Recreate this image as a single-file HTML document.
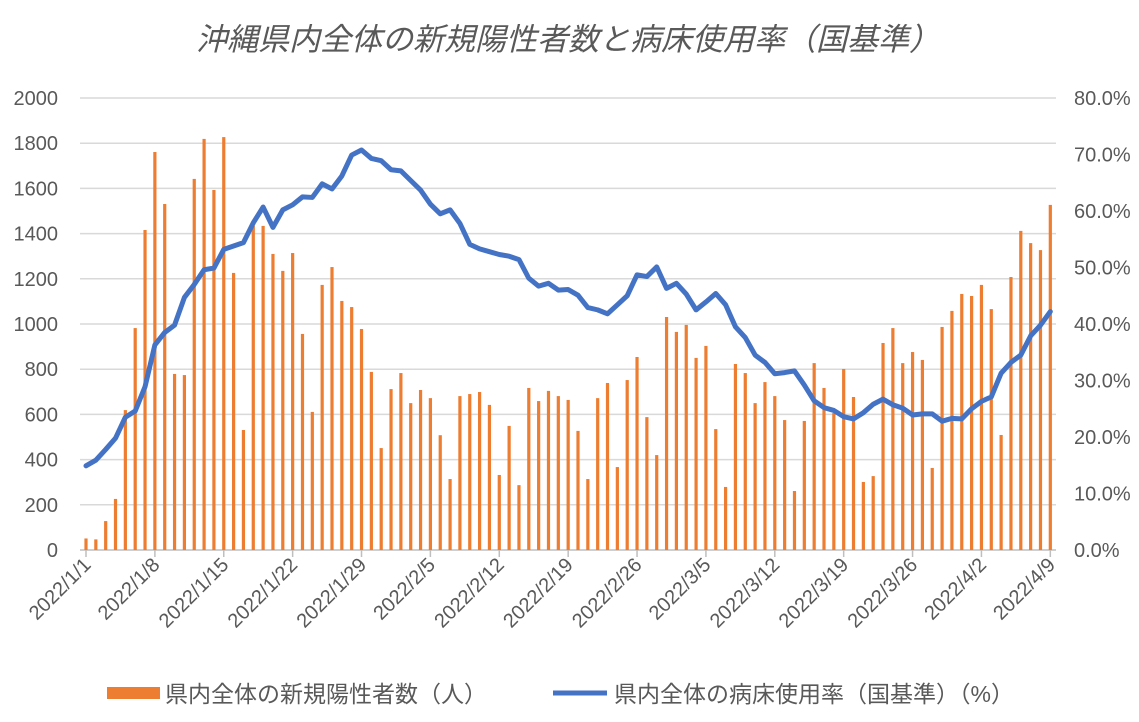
<!DOCTYPE html>
<html><head><meta charset="utf-8"><style>
body{margin:0;background:#fff;}
svg text{font-family:"Liberation Sans","Noto Sans CJK JP",sans-serif;fill:#595959;}
</style></head><body>
<svg id="s" width="1139" height="717" xmlns="http://www.w3.org/2000/svg">
<text x="568" y="50" font-size="31" text-anchor="middle" font-style="italic">沖縄県内全体の新規陽性者数と病床使用率（国基準）</text>
<g id="g"></g>
<rect x="107" y="687" width="53" height="12" fill="#ed7d31"/>
<text x="165" y="702" font-size="23">県内全体の新規陽性者数（人）</text>
<line x1="553" y1="693" x2="607" y2="693" stroke="#4472c4" stroke-width="5"/>
<text x="614" y="702" font-size="23">県内全体の病床使用率（国基準）（%）</text>
</svg>
<script>
const bars=[51,47,128,226,619,982,1416,1761,1531,779,774,1642,1819,1593,1827,1226,531,1434,1434,1310,1235,1314,956,611,1173,1252,1102,1075,978,788,451,712,783,650,708,672,508,314,681,690,699,642,332,549,287,717,659,704,681,664,527,314,672,739,367,752,854,588,420,1031,965,996,850,903,535,279,823,783,650,743,681,575,261,571,827,717,606,801,677,301,327,916,982,827,876,841,363,987,1058,1133,1124,1173,1066,509,1208,1412,1358,1327,1527];
const pct=[14.9,15.9,17.8,19.8,23.5,24.6,28.9,36.3,38.5,39.8,44.7,47.0,49.6,49.9,53.2,53.8,54.4,57.9,60.7,57.1,60.2,61.1,62.5,62.4,64.8,63.9,66.2,69.9,70.8,69.3,68.9,67.3,67.1,65.4,63.7,61.2,59.5,60.2,57.8,54.1,53.3,52.8,52.3,52.0,51.4,48.1,46.7,47.2,46.0,46.1,45.1,42.9,42.5,41.8,43.4,45.0,48.7,48.4,50.1,46.3,47.2,45.3,42.5,43.9,45.4,43.4,39.5,37.6,34.5,33.2,31.2,31.4,31.7,29.2,26.4,25.2,24.7,23.6,23.2,24.3,25.8,26.7,25.7,25.1,23.9,24.1,24.1,22.8,23.3,23.2,25.0,26.3,27.1,31.3,33.2,34.5,37.9,39.8,42.2];
const X=i=>86+i*9.84, B=550, H=452;
let h='';
for(let k=0;k<=10;k++){const y=B-k*H/10;
 h+=`<line x1="80" x2="1056" y1="${y}" y2="${y}" stroke="${k?'#d9d9d9':'#bfbfbf'}" stroke-width="1.5"/>`;
 h+=`<text x="58" y="${y+7}" font-size="20" text-anchor="end">${k*200}</text>`;}
for(let k=0;k<=8;k++){const y=B-k*H/8;
 h+=`<text x="1074" y="${y+7}" font-size="20">${(k*10).toFixed(1)}%</text>`;}
for(let i=0;i<=98;i+=7){const d=new Date(2022,0,1+i);const x=X(i);
 h+=`<line x1="${x}" x2="${x}" y1="550" y2="557" stroke="#bfbfbf" stroke-width="1.5"/>`;
 h+=`<text transform="translate(${x+6},${566}) rotate(-45)" font-size="20" text-anchor="end">2022/${d.getMonth()+1}/${d.getDate()}</text>`;}
bars.forEach((v,i)=>{const hh=v/2000*H;h+=`<rect x="${X(i)-1.6}" y="${B-hh}" width="3.2" height="${hh}" fill="#ed7d31"/>`;});
h+=`<polyline fill="none" stroke="#4472c4" stroke-width="5" stroke-linejoin="round" stroke-linecap="round" points="${pct.map((p,i)=>X(i)+','+(B-p/80*H)).join(' ')}"/>`;
document.getElementById('g').innerHTML=h;
</script>
</body></html>
